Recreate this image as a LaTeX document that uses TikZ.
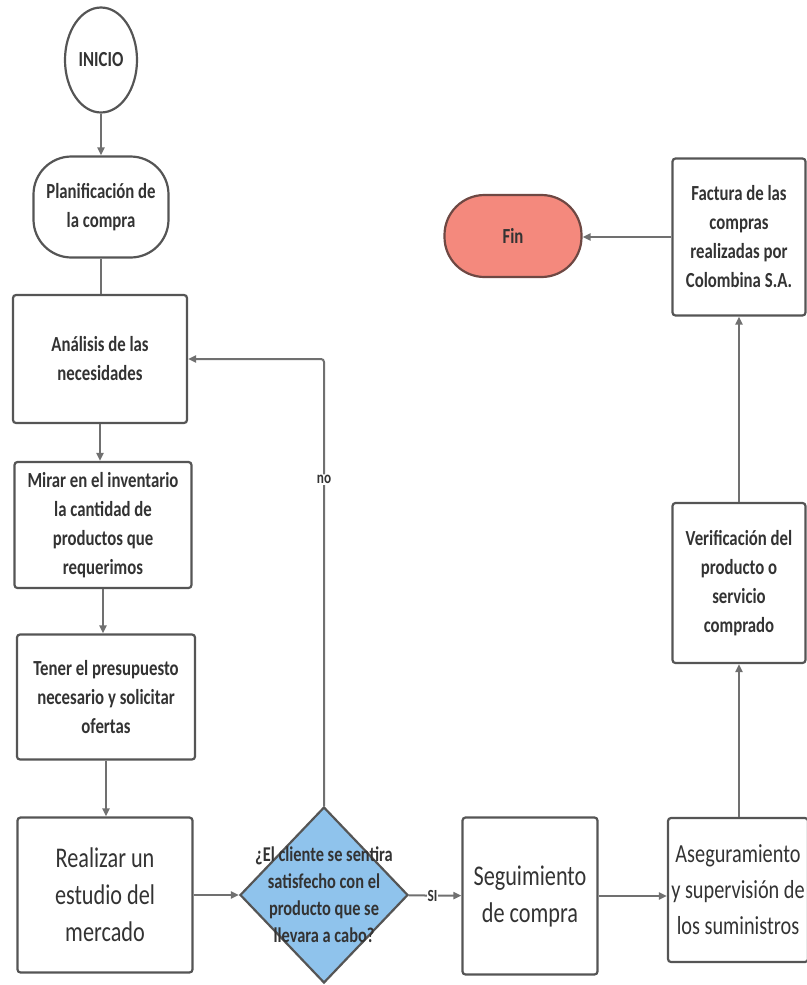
\documentclass[tikz,border=0pt]{standalone}
\usepackage{fontspec}
\newfontfamily\flowfont[FakeStretch=0.78]{Carlito}
\usetikzlibrary{positioning,arrows.meta,shapes.geometric}

\definecolor{linegray}{HTML}{707070}
\definecolor{boxgray}{HTML}{555555}
\definecolor{textgray}{HTML}{333333}
\definecolor{decblue}{HTML}{8FC3EC}
\definecolor{finred}{HTML}{F4897D}
\definecolor{finborder}{HTML}{6E4843}

\begin{document}
\begin{tikzpicture}[x=1pt,y=-1pt,
  box/.style={draw=boxgray,line width=2.2pt,rounded corners=3pt,fill=white,text=textgray,align=center,inner sep=2pt},
  small/.style={font=\flowfont\bfseries\fontsize{21.5}{29}\selectfont},
  big/.style={font=\flowfont\fontsize{28.5}{37}\selectfont},
  flow/.style={draw=linegray,line width=2pt,-{Triangle[length=8pt,width=7pt]}},
  tag/.style={fill=white,inner sep=1pt,text=textgray,font=\flowfont\bfseries\fontsize{17}{20}\selectfont}]

\useasboundingbox (0,0) rectangle (806,985);

% left column
\node[box,small,ellipse,rounded corners=0pt,minimum width=72,minimum height=105,inner sep=0pt] (inicio) at (101,60) {INICIO};
\node[box,small,rounded corners=38pt,minimum width=135,minimum height=101] (plan) at (101,207) {Planificación de\\la compra};
\node[box,small,minimum width=174,minimum height=128] (anal) at (100,359) {Análisis de las\\necesidades};
\node[box,small,minimum width=177,minimum height=126] (mirar) at (103,525) {Mirar en el inventario\\la cantidad de\\productos que\\requerimos};
\node[box,small,minimum width=178,minimum height=125] (tener) at (106,697) {Tener el presupuesto\\necesario y solicitar\\ofertas};
\node[box,big,minimum width=175,minimum height=155] (real) at (105,895) {Realizar un\\estudio del\\mercado};

% decision
\node[diamond,draw=boxgray,line width=2.2pt,fill=decblue,minimum width=168,minimum height=176,inner sep=0pt,
  label={[align=center,text=textgray,font=\flowfont\bfseries\fontsize{21}{27}\selectfont]center:¿El cliente se sentira\\satisfecho con el\\producto que se\\llevara a cabo?}] (dec) at (324,895) {};

% bottom row and right column
\node[box,big,minimum width=135,minimum height=157] (seg) at (530,896) {Seguimiento\\de compra};
\node[box,big,font=\flowfont\fontsize{26}{36}\selectfont,minimum width=140,minimum height=144] (aseg) at (738,890) {Aseguramiento\\y supervisión de\\los suministros};
\node[box,small,minimum width=133,minimum height=160] (verif) at (739,583) {Verificación del\\producto o\\servicio\\comprado};
\node[box,small,minimum width=133,minimum height=157] (fact) at (739,237) {Factura de las\\compras\\realizadas por\\Colombina S.A.};
\node[box,small,draw=finborder,fill=finred,rounded corners=40pt,minimum width=137,minimum height=82] (fin) at (513,236) {Fin};

% connectors
\draw[flow] (inicio) -- (plan);
\draw[flow,-] (plan.south) -- (plan.south |- anal.north);
\draw[flow] (anal.south) -- (anal.south |- mirar.north);
\draw[flow] (mirar.south) -- (mirar.south |- tener.north);
\draw[flow] (tener.south) -- (tener.south |- real.north);
\draw[flow] (real) -- (dec);
\draw[flow] (dec) -- node[tag,pos=0.45] {SI} (seg);
\draw[flow,rounded corners=3pt] (dec.north) -- node[tag,pos=0.73] {no} (dec.north |- anal.east) -- (anal.east);
\draw[flow] (seg.east) -- (seg.east -| aseg.west);
\draw[flow] (aseg.north -| verif.south) -- (verif.south);
\draw[flow] (verif) -- (fact);
\draw[flow] (fact.west) -- (fact.west -| fin.east);

\end{tikzpicture}
\end{document}
